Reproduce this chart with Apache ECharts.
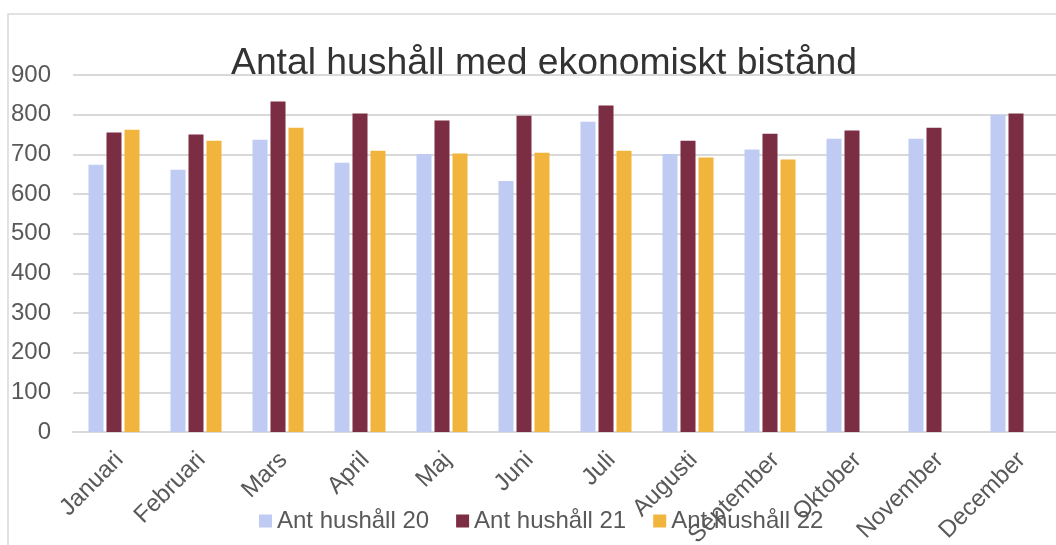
<!DOCTYPE html>
<html><head><meta charset="utf-8">
<script src="https://cdn.jsdelivr.net/npm/echarts@6/dist/echarts.min.js"></script>
<style>html,body{margin:0;padding:0;background:#fff}#c{width:1056px;height:545px}</style>
</head><body><div id="c"></div>
<script>
const categories = ['Januari','Februari','Mars','April','Maj','Juni','Juli','Augusti','September','Oktober','November','December'];
const seriesNames = ['Ant hushåll 20','Ant hushåll 21','Ant hushåll 22'];
const hushall20 = [674, 661, 737, 679, 701, 633, 782, 701, 712, 739, 739, 800];
const hushall21 = [755, 750, 833, 803, 785, 797, 823, 734, 752, 760, 767, 803];
const hushall22 = [762, 734, 767, 709, 702, 704, 709, 692, 687, null, null, null];
const yTicks = {min: 0, max: 900, interval: 100};
const titleText = 'Antal hushåll med ekonomiskt bistånd';

const colors = ['#bfcbf3', '#7b2d44', '#f1b43d'];
const font = '"Liberation Sans", Arial, sans-serif';
const chart = echarts.init(document.getElementById('c'), null, {renderer: 'canvas'});
const mk = (name, data, i) => ({
  name, type: 'bar', data, barWidth: 15, barGap: '20%',
  itemStyle: {color: colors[i]}, animation: false
});
chart.setOption({
  animation: false,
  textStyle: {fontFamily: font},
  title: {
    text: titleText, left: 226, top: 40,
    textStyle: {fontSize: 37.3, fontWeight: 'normal', color: '#333333', fontFamily: font}
  },
  graphic: [{type: 'rect', shape: {x: 8, y: 14, width: 1200, height: 700},
    style: {fill: 'none', stroke: '#d9d9d9', lineWidth: 1.5}, silent: true, z: -1}],
  legend: {
    data: seriesNames, left: 254, top: 504, itemWidth: 13, itemHeight: 13, itemGap: 27,
    icon: 'rect',
    textStyle: {fontSize: 24, color: '#595959', fontFamily: font}
  },
  grid: {left: 73, top: 75, width: 984, height: 357, containLabel: false, outerBoundsMode: 'none'},
  xAxis: {
    type: 'category', data: categories,
    axisLine: {lineStyle: {color: '#d9d9d9', width: 2}},
    axisTick: {show: false},
    axisLabel: {rotate: 45, fontSize: 24, color: '#595959', margin: 13, interval: 0,
      fontFamily: font, align: 'right', verticalAlign: 'top', padding: [0, 4, 0, 0]}
  },
  yAxis: {
    type: 'value', min: yTicks.min, max: yTicks.max, interval: yTicks.interval,
    axisLine: {show: false}, axisTick: {show: false},
    axisLabel: {fontSize: 24, color: '#595959', margin: 22, fontFamily: font},
    splitLine: {lineStyle: {color: '#d9d9d9', width: 2}}
  },
  series: [mk(seriesNames[0], hushall20, 0), mk(seriesNames[1], hushall21, 1), mk(seriesNames[2], hushall22, 2)]
});
</script></body></html>
